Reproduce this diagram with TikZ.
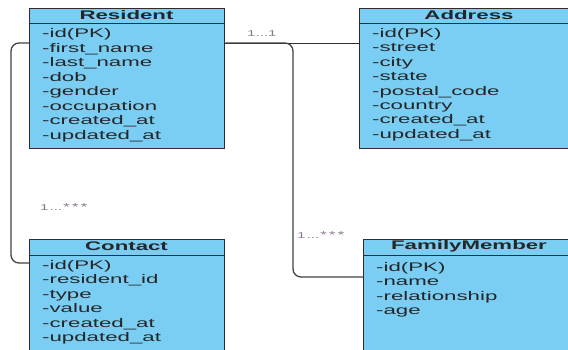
\documentclass[tikz,border=0pt]{standalone}
\usepackage{fontspec}
\setmainfont[FakeStretch=1.78]{Liberation Sans}
\definecolor{boxblue}{RGB}{122,205,243}
\definecolor{edgegray}{RGB}{45,45,45}
\definecolor{lblcol}{RGB}{135,120,140}
\newcommand{\manystars}{{\fontsize{10}{10}\selectfont*\kern1.8pt*\kern1.8pt*}}
\tikzset{
  ent/.style={draw=edgegray, line width=1.4pt, fill=boxblue, anchor=north west, inner sep=0pt},
  hdr/.style={font=\fontsize{12.5}{14}\selectfont\bfseries, text=black!85, inner sep=0pt, anchor=center},
  attr/.style={font=\fontsize{12.5}{14}\selectfont, text=black!85, inner sep=0pt, anchor=base west},
  conn/.style={draw=edgegray!90, line width=1.3pt, rounded corners=8pt},
  mult/.style={font=\fontsize{8.5}{10}\selectfont, text=lblcol, inner sep=0pt}
}
\begin{document}
\begin{tikzpicture}[x=1pt, y=-1pt]
\useasboundingbox (0,0) rectangle (568,349);
\begin{scope}
\clip (0,0) rectangle (568,349);
% boxes
\node[ent, minimum width=195pt, minimum height=140pt] (res) at (29,8) {};
\node[ent, minimum width=222pt, minimum height=140pt] (addr) at (359,8) {};
\node[ent, minimum width=195pt, minimum height=120pt] (con) at (29,239) {};
\node[ent, minimum width=218pt, minimum height=120pt] (fam) at (363,239) {};
% header separators
\draw[edgegray, line width=1pt] ([yshift=-15.5pt]res.north west) -- ([yshift=-15.5pt]res.north east);
\draw[edgegray, line width=1pt] ([yshift=-15.5pt]addr.north west) -- ([yshift=-15.5pt]addr.north east);
\draw[edgegray, line width=1pt] ([yshift=-16pt]con.north west) -- ([yshift=-16pt]con.north east);
\draw[edgegray, line width=1pt] ([yshift=-16pt]fam.north west) -- ([yshift=-16pt]fam.north east);
% headers
\node[hdr] (resh) at (126.5,15.5) {Resident};
\node[hdr] (addrh) at (469,15.5) {Address};
\node[hdr] (conh) at (126.5,246.5) {Contact};
\node[hdr] (famh) at (469,246.5) {FamilyMember};
% attributes
\foreach \t [count=\i from 0] in {-id(PK),-first\_name,-last\_name,-dob,-gender,-occupation,-created\_at,-updated\_at}
  \node[attr] (resa\i) at (42,37.5+14.5*\i) {\t};
\foreach \t [count=\i from 0] in {-id(PK),-street,-city,-state,-postal\_code,-country,-created\_at,-updated\_at}
  \node[attr] (addra\i) at (372,37.5+14.4*\i) {\t};
\foreach \t [count=\i from 0] in {-id(PK),-resident\_id,-type,-value,-created\_at,-updated\_at}
  \node[attr] (cona\i) at (42,269.5+14.4*\i) {\t};
\foreach \t [count=\i from 0] in {-id(PK),-name,-relationship,-age}
  \node[attr] (fama\i) at (376,271.5+14.4*\i) {\t};
% connector points
\coordinate (rE) at ([yshift=-35pt]res.north east);
\coordinate (rW) at ([yshift=-35pt]res.north west);
\coordinate (aW) at ([yshift=-35pt]addr.north west);
\coordinate (cW) at ([yshift=-24pt]con.north west);
\coordinate (fW) at ([yshift=-38pt]fam.north west);
\end{scope}
% connectors
\draw[edgegray, line width=1pt] (rE) -- (aW);
\draw[conn] (rE) -| (293,160) |- (fW);
\draw[conn] (rW) -| (11,160) |- (cW);
% multiplicities
\node[mult, anchor=base west] (m1) at (247,36) {1...1};
\node[mult, anchor=base west] (m2) at (40,210.5) {1\kern1pt...\kern1pt\manystars};
\node[mult, anchor=base west] (m3) at (297,238.5) {1\kern1pt...\kern1pt\manystars};
\end{tikzpicture}
\end{document}
